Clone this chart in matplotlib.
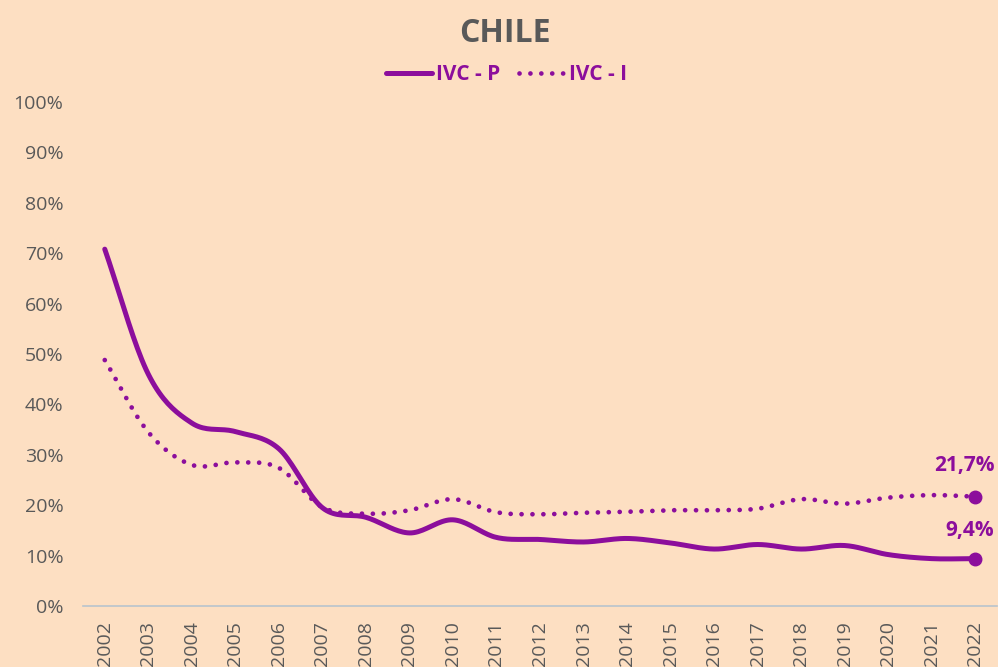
import numpy as np
import matplotlib
matplotlib.use("Agg")
import matplotlib.pyplot as plt
from matplotlib.lines import Line2D
from matplotlib.ticker import PercentFormatter

years = list(range(2002, 2023))
ivc_p = [70.8, 46.0, 36.3, 34.6, 31.2, 19.5, 17.6, 14.5, 17.1, 13.6, 13.2, 12.7, 13.4, 12.5,
         11.3, 12.2, 11.3, 12.0, 10.2, 9.4, 9.4]
ivc_i = [48.8, 34.5, 28.0, 28.5, 27.4, 19.6, 18.3, 19.0, 21.2, 18.6, 18.2, 18.5, 18.7, 19.0,
         19.0, 19.3, 21.2, 20.3, 21.5, 22.0, 21.7]
series_names = ["IVC - P", "IVC - I"]
end_labels = ["9,4%", "21,7%"]
title = "CHILE"

PURPLE = "#8C0E9C"
BG = "#FDDFC2"
GRAY = "#595959"
FONT = ["Open Sans", "DejaVu Sans"]


def smooth(x, y, n=20):
    # Catmull-Rom spline through the data points (like Excel smoothed lines)
    x = np.asarray(x, float); y = np.asarray(y, float)
    px = np.concatenate([[2 * x[0] - x[1]], x, [2 * x[-1] - x[-2]]])
    py = np.concatenate([[2 * y[0] - y[1]], y, [2 * y[-1] - y[-2]]])
    xs, ys = [], []
    for i in range(1, len(px) - 2):
        t = np.linspace(0, 1, n, endpoint=False)
        for P, out in ((px, xs), (py, ys)):
            p0, p1, p2, p3 = P[i - 1], P[i], P[i + 1], P[i + 2]
            out.extend(0.5 * (2 * p1 + (-p0 + p2) * t + (2 * p0 - 5 * p1 + 4 * p2 - p3) * t ** 2
                              + (-p0 + 3 * p1 - 3 * p2 + p3) * t ** 3))
    xs.append(x[-1]); ys.append(y[-1])
    return np.array(xs), np.array(ys)


fig = plt.figure(figsize=(9.98, 6.67), dpi=100, facecolor=BG)
ax = fig.add_axes([83 / 998, 1 - 606 / 667, (997 - 83) / 998, (606 - 102) / 667])
ax.set_facecolor(BG)

DOTS = (0, (0.01, 2.3))
xp, yp = smooth(years, ivc_p)
xi, yi = smooth(years, ivc_i)
ax.plot(xp, yp, color=PURPLE, lw=3.6, solid_capstyle="round", clip_on=False)
ax.plot(xi, yi, color=PURPLE, lw=3.4, linestyle=DOTS, dash_capstyle="round", clip_on=False)
ax.plot(years[-1], ivc_p[-1], "o", color=PURPLE, ms=9, clip_on=False)
ax.plot(years[-1], ivc_i[-1], "o", color=PURPLE, ms=9, clip_on=False)
ax.annotate(end_labels[0], (years[-1], ivc_p[-1]), xytext=(-4, 13), textcoords="offset points",
            ha="center", va="bottom", color=PURPLE, fontsize=15, fontweight="bold", family=FONT)
ax.annotate(end_labels[1], (years[-1], ivc_i[-1]), xytext=(-8, 15), textcoords="offset points",
            ha="center", va="bottom", color=PURPLE, fontsize=15, fontweight="bold", family=FONT)

ax.set_xlim(years[0] - 0.5, years[-1] + 0.5)
ax.set_ylim(0, 100)
ax.set_yticks(np.arange(0, 101, 10))
ax.yaxis.set_major_formatter(PercentFormatter(decimals=0))
ax.set_xticks(years)
ax.set_xticklabels([str(y) for y in years], rotation=90)
for s in ["top", "right", "left"]:
    ax.spines[s].set_visible(False)
ax.spines["bottom"].set_color("#B8C4CE")
ax.spines["bottom"].set_linewidth(1.2)
ax.tick_params(axis="both", length=0, colors=GRAY, labelsize=14)
ax.tick_params(axis="y", pad=14)
ax.tick_params(axis="x", pad=11)
for lab in ax.get_xticklabels() + ax.get_yticklabels():
    lab.set_family(FONT)

fig.text(0.506, 1 - 34 / 667, title, ha="center", va="center", fontsize=23, fontweight="bold",
         color=GRAY, family=FONT)

handles = [Line2D([], [], color=PURPLE, lw=3.6, solid_capstyle="round"),
           Line2D([], [], color=PURPLE, lw=3.4, linestyle=DOTS, dash_capstyle="round")]
leg = fig.legend(handles, series_names, loc="center", bbox_to_anchor=(0.508, 1 - 75 / 667),
                 ncol=2, frameon=False, handlelength=2.2, handletextpad=0.2, columnspacing=0.9,
                 prop={"family": FONT, "weight": "bold", "size": 15})
for t in leg.get_texts():
    t.set_color(PURPLE)

fig.savefig("out.png", dpi=100, facecolor=BG)
